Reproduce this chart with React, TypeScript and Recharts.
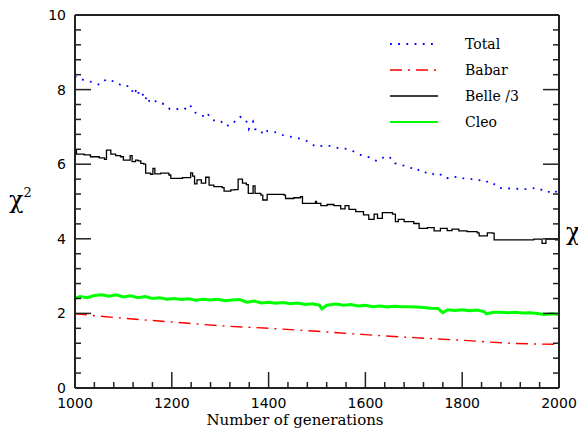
import { LineChart, Line, XAxis, YAxis } from 'recharts';

// chi^2 vs generations
const totalGen = [1000, 1006, 1021, 1037, 1051, 1065, 1085, 1099, 1113, 1122, 1128, 1134, 1145, 1148, 1159, 1174, 1184, 1196, 1211, 1225, 1237, 1246, 1260, 1269, 1273, 1283, 1301, 1310, 1326, 1335, 1341, 1353, 1359, 1368, 1372, 1384, 1388, 1397, 1417, 1433, 1450, 1466, 1483, 1497, 1517, 1527, 1545, 1562, 1580, 1593, 1607, 1618, 1626, 1634, 1642, 1657, 1662, 1673, 1691, 1704, 1713, 1727, 1735, 1745, 1759, 1769, 1779, 1789, 1809, 1830, 1838, 1847, 1855, 1864, 1875, 1895, 1916, 1934, 1954, 1962, 1969, 1979, 1990, 2000];
const totalChi = [8.36, 8.28, 8.26, 8.19, 8.13, 8.28, 8.2, 8.08, 8.1, 7.86, 8.04, 7.8, 7.91, 7.64, 7.76, 7.62, 7.62, 7.48, 7.48, 7.46, 7.6, 7.4, 7.3, 7.29, 7.37, 7.18, 7.16, 7.02, 7.07, 7.24, 7.27, 7.2, 6.94, 7.14, 6.94, 6.92, 6.79, 6.89, 6.85, 6.76, 6.73, 6.68, 6.6, 6.47, 6.5, 6.49, 6.43, 6.41, 6.32, 6.23, 6.19, 6.11, 6.08, 6.15, 6.22, 6.14, 6.02, 5.98, 5.93, 5.82, 5.86, 5.76, 5.78, 5.69, 5.73, 5.63, 5.62, 5.67, 5.6, 5.6, 5.56, 5.51, 5.55, 5.49, 5.36, 5.35, 5.34, 5.33, 5.37, 5.33, 5.26, 5.26, 5.31, 5.19];

const babarGen = [1000, 1100, 1200, 1300, 1400, 1500, 1600, 1700, 1800, 1900, 2000];
const babarChi = [1.99, 1.87, 1.77, 1.67, 1.6, 1.52, 1.43, 1.35, 1.28, 1.2, 1.17];

const belleGen = [1000, 1003, 1019, 1032, 1050, 1061, 1065, 1074, 1084, 1094, 1100, 1110, 1114, 1118, 1125, 1130, 1136, 1142, 1146, 1156, 1161, 1165, 1177, 1194, 1198, 1212, 1222, 1232, 1239, 1243, 1247, 1252, 1261, 1270, 1277, 1287, 1304, 1308, 1322, 1330, 1337, 1346, 1354, 1358, 1368, 1372, 1384, 1388, 1397, 1432, 1435, 1452, 1466, 1470, 1480, 1490, 1497, 1499, 1508, 1521, 1535, 1549, 1558, 1566, 1580, 1596, 1607, 1618, 1625, 1635, 1656, 1662, 1668, 1680, 1700, 1711, 1728, 1738, 1742, 1755, 1769, 1779, 1793, 1810, 1831, 1835, 1852, 1862, 1866, 1893, 1921, 1948, 1965, 1973, 1993, 2000];
const belleChi = [6.38, 6.27, 6.25, 6.2, 6.17, 6.13, 6.38, 6.27, 6.23, 6.2, 6.11, 6.11, 6.23, 6.07, 6.11, 6.09, 6.02, 6.0, 5.76, 5.73, 5.89, 5.74, 5.76, 5.71, 5.62, 5.62, 5.64, 5.64, 5.77, 5.68, 5.47, 5.58, 5.49, 5.65, 5.44, 5.4, 5.37, 5.28, 5.31, 5.32, 5.6, 5.49, 5.45, 5.22, 5.42, 5.22, 5.17, 5.04, 5.19, 5.17, 5.08, 5.1, 5.13, 4.95, 4.95, 4.95, 5.0, 4.95, 4.89, 4.92, 4.89, 4.8, 4.89, 4.79, 4.73, 4.64, 4.52, 4.66, 4.55, 4.7, 4.66, 4.46, 4.52, 4.46, 4.41, 4.28, 4.3, 4.3, 4.21, 4.28, 4.22, 4.26, 4.21, 4.19, 4.16, 4.08, 4.16, 4.15, 3.97, 3.97, 3.97, 3.99, 3.88, 3.99, 3.97, 3.88];

const cleoGen = [1000, 1010, 1025, 1040, 1055, 1070, 1085, 1100, 1115, 1130, 1145, 1160, 1175, 1190, 1205, 1220, 1235, 1250, 1265, 1280, 1295, 1310, 1325, 1340, 1355, 1370, 1385, 1400, 1415, 1430, 1445, 1460, 1475, 1490, 1505, 1510, 1520, 1540, 1555, 1570, 1585, 1600, 1615, 1630, 1645, 1660, 1675, 1690, 1705, 1720, 1735, 1750, 1760, 1770, 1785, 1800, 1815, 1830, 1845, 1850, 1865, 1880, 1895, 1910, 1925, 1940, 1955, 1970, 1985, 2000];
const cleoChi = [2.4, 2.45, 2.42, 2.48, 2.5, 2.46, 2.5, 2.44, 2.47, 2.42, 2.45, 2.4, 2.42, 2.38, 2.4, 2.37, 2.39, 2.35, 2.38, 2.36, 2.38, 2.34, 2.36, 2.37, 2.3, 2.33, 2.28, 2.3, 2.27, 2.29, 2.26, 2.28, 2.24, 2.26, 2.22, 2.12, 2.22, 2.25, 2.22, 2.24, 2.2, 2.22, 2.18, 2.2, 2.17, 2.19, 2.18, 2.18, 2.17, 2.16, 2.14, 2.13, 2.02, 2.1, 2.08, 2.1, 2.07, 2.09, 2.05, 1.99, 2.03, 2.03, 2.02, 2.03, 2.01, 2.02, 2.0, 1.97, 1.99, 1.97];

const xMajor = [1000, 1200, 1400, 1600, 1800, 2000];
const xMinor = [1000, 1040, 1080, 1120, 1160, 1200, 1240, 1280, 1320, 1360, 1400, 1440, 1480, 1520, 1560, 1600, 1640, 1680, 1720, 1760, 1800, 1840, 1880, 1920, 1960, 2000];
const yMajor = [0, 2, 4, 6, 8, 10];
const yMinor = [0, 0.4, 0.8, 1.2, 1.6, 2, 2.4, 2.8, 3.2, 3.6, 4, 4.4, 4.8, 5.2, 5.6, 6, 6.4, 6.8, 7.2, 7.6, 8, 8.4, 8.8, 9.2, 9.6, 10];

const TOTAL_DASH = '1.8 6.4';
const BABAR_DASH = '12 6 2 6';

const legendItems = [
    { name: 'Total', color: '#0000ff', dash: TOTAL_DASH, width: 1.8 },
    { name: 'Babar', color: '#ff0000', dash: BABAR_DASH, width: 1.4 },
    { name: 'Belle /3', color: '#000000', dash: undefined, width: 1.4 },
    { name: 'Cleo', color: '#00ff00', dash: undefined, width: 2 },
];

const toPoints = (gen: number[], chi: number[]) => gen.map((g, i) => ({ g, chi: chi[i] }));

const axisStroke = '#222';
const serif = '"DejaVu Serif", serif';
const sans = '"DejaVu Sans", sans-serif';
const MAJOR = 16;
const MINOR = 6;

// draws an inward tick (and the number for major ticks) at the axis point
function makeTick(side: 'bottom' | 'top' | 'left' | 'right', majors: number[], showLabel: boolean) {
    return (props: any) => {
        const { x, y, payload } = props;
        const isMajor = majors.includes(payload.value);
        const len = isMajor ? MAJOR : MINOR;
        let x2 = x;
        let y2 = y;
        if (side === 'bottom') y2 = y - len;
        if (side === 'top') y2 = y + len;
        if (side === 'left') x2 = x + len;
        if (side === 'right') x2 = x - len;
        return (
            <g>
                <line x1={x} y1={y} x2={x2} y2={y2} stroke={axisStroke} strokeWidth={1.5} />
                {showLabel && isMajor && side === 'bottom' && (
                    <text x={x} y={y + 20} textAnchor="middle" fontSize={14} fontFamily={sans} fill="#000">
                        {payload.value}
                    </text>
                )}
                {showLabel && isMajor && side === 'left' && (
                    <text x={x - 9} y={y + 5} textAnchor="end" fontSize={14} fontFamily={sans} fill="#000">
                        {payload.value}
                    </text>
                )}
            </g>
        );
    };
}

function LegendBox() {
    return (
        <div style={{ position: 'absolute', left: 388, top: 31 }}>
            {legendItems.map((item) => (
                <div key={item.name} style={{ display: 'flex', alignItems: 'center', height: 26 }}>
                    <svg width={52} height={6}>
                        <line x1={2} y1={3} x2={50} y2={3} stroke={item.color}
                            strokeWidth={item.width} strokeDasharray={item.dash} />
                    </svg>
                    <span style={{ marginLeft: 25, fontFamily: serif, fontSize: 14, color: '#000' }}>
                        {item.name}
                    </span>
                </div>
            ))}
        </div>
    );
}

export default function App() {
    const frame = { stroke: axisStroke, strokeWidth: 2 };

    return (
        <div style={{ position: 'absolute', left: 0, top: 0, width: 578, height: 430, overflow: 'hidden', background: '#fff' }}>
            <LineChart width={578} height={430} margin={{ top: 14, right: 18, bottom: 0, left: 0 }}>
                <XAxis xAxisId="main" dataKey="g" type="number" domain={[1000, 2000]} ticks={xMinor}
                    allowDataOverflow interval={0} height={42} tickSize={0} tickMargin={0}
                    axisLine={frame} tickLine={false} tick={makeTick('bottom', xMajor, true)} />
                <YAxis yAxisId="main" type="number" domain={[0, 10]} ticks={yMinor}
                    allowDataOverflow interval={0} width={75} tickSize={0} tickMargin={0}
                    axisLine={frame} tickLine={false} tick={makeTick('left', yMajor, true)} />
                <XAxis xAxisId="top" orientation="top" type="number" domain={[1000, 2000]} ticks={xMinor}
                    allowDataOverflow interval={0} height={1} tickSize={0} tickMargin={0}
                    axisLine={frame} tickLine={false} tick={makeTick('top', xMajor, false)} />
                <YAxis yAxisId="right" orientation="right" type="number" domain={[0, 10]} ticks={yMinor}
                    allowDataOverflow interval={0} width={1} tickSize={0} tickMargin={0}
                    axisLine={frame} tickLine={false} tick={makeTick('right', yMajor, false)} />

                <Line xAxisId="main" yAxisId="main" data={toPoints(cleoGen, cleoChi)} dataKey="chi" name="Cleo"
                    type="linear" stroke="#00ff00" strokeWidth={3} dot={false} isAnimationActive={false} />
                <Line xAxisId="main" yAxisId="main" data={toPoints(babarGen, babarChi)} dataKey="chi" name="Babar"
                    type="monotone" stroke="#ff0000" strokeWidth={1.4} strokeDasharray={BABAR_DASH} dot={false} isAnimationActive={false} />
                <Line xAxisId="main" yAxisId="main" data={toPoints(belleGen, belleChi)} dataKey="chi" name="Belle /3"
                    type="stepAfter" stroke="#000" strokeWidth={1.3} dot={false} isAnimationActive={false} />
                <Line xAxisId="main" yAxisId="main" data={toPoints(totalGen, totalChi)} dataKey="chi" name="Total"
                    type="linear" stroke="#0000ff" strokeWidth={1.8} strokeDasharray={TOTAL_DASH} dot={false} isAnimationActive={false} />
            </LineChart>
            <LegendBox />
            <div style={{ position: 'absolute', left: 9, top: 186, fontFamily: serif, fontSize: 24, color: '#000' }}>
                χ<sup style={{ fontSize: 13, position: 'relative', top: -2 }}>2</sup>
            </div>
            <div style={{ position: 'absolute', left: 566, top: 218, fontFamily: serif, fontSize: 24, color: '#000' }}>χ</div>
            <div style={{ position: 'absolute', left: 295, top: 411, transform: 'translateX(-50%)', fontFamily: serif, fontSize: 15, color: '#000', whiteSpace: 'nowrap' }}>
                Number of generations
            </div>
        </div>
    );
}
